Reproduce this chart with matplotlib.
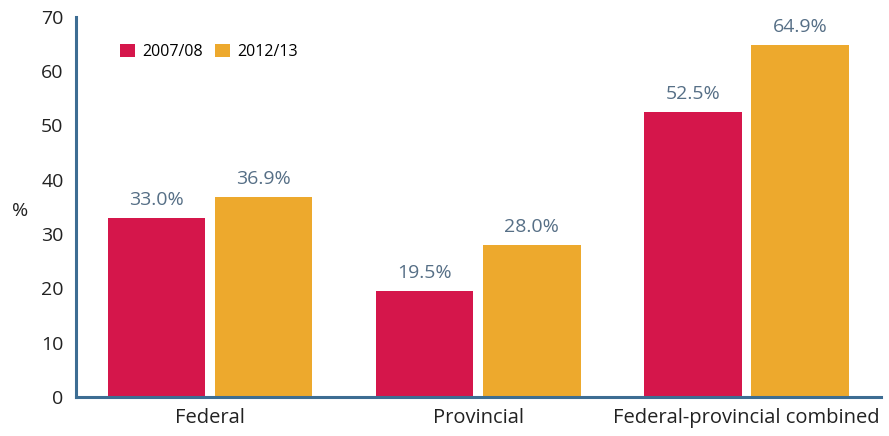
import matplotlib.pyplot as plt
import numpy as np

plt.rcParams['font.family'] = ['Open Sans', 'DejaVu Sans']

categories = ['Federal', 'Provincial', 'Federal-provincial combined']
years = ['2007/08', '2012/13']
vals_0708 = [33.0, 19.5, 52.5]
vals_1213 = [36.9, 28.0, 64.9]
y_ticks = [0, 10, 20, 30, 40, 50, 60, 70]

red = '#d5164b'
orange = '#eda92d'
blue = '#3d6d93'
label_col = '#566f86'
text_col = '#222222'

fig = plt.figure(figsize=(8.89, 4.36), dpi=100)
ax = fig.add_axes([0.0855, 0.0894, 0.905, 0.872])

x = np.arange(len(categories))
w = 0.363
off = 0.2
b1 = ax.bar(x - off, vals_0708, w, color=red, label=years[0])
b2 = ax.bar(x + off, vals_1213, w, color=orange, label=years[1])

# value labels above each bar
for bars, vals in ((b1, vals_0708), (b2, vals_1213)):
    for r, v in zip(bars, vals):
        ax.text(r.get_x() + r.get_width() / 2, v + 1.6, f'{v:.1f}%',
                ha='center', va='bottom', fontsize=14, color=label_col)

ax.set_xlim(-0.5, 2.5)
ax.set_ylim(0, 70)
ax.set_yticks(y_ticks)
ax.set_xticks(x)
ax.set_xticklabels(categories)
ax.tick_params(length=0, labelsize=14, colors=text_col)
ax.tick_params(axis='y', pad=9)
ax.tick_params(axis='x', labelsize=14.5, pad=8)

for s in ('top', 'right'):
    ax.spines[s].set_visible(False)
for s in ('left', 'bottom'):
    ax.spines[s].set_color(blue)
    ax.spines[s].set_linewidth(2.2)

fig.text(0.014, 0.515, '%', fontsize=14, color=text_col, va='center')

ax.legend(loc='center left', bbox_to_anchor=(0.055, 0.908), ncol=2, frameon=False,
          borderpad=0, borderaxespad=0, fontsize=11.5, handlelength=0.9,
          handleheight=0.9, handletextpad=0.45, columnspacing=0.8)

fig.savefig('out.png', dpi=100)
